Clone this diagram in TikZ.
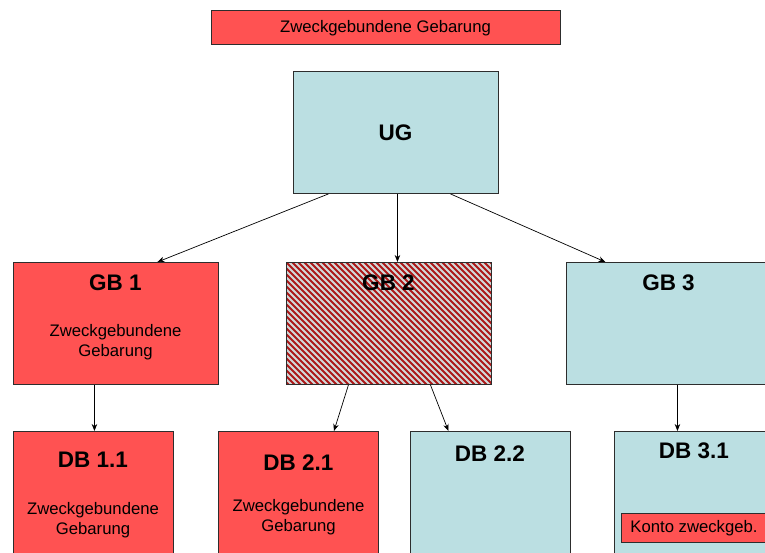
\documentclass[tikz,border=0pt]{standalone}
\usepackage{fontspec}
\setmainfont{Liberation Sans}
\usetikzlibrary{arrows.meta}
\definecolor{zred}{RGB}{255,82,82}
\definecolor{zblue}{RGB}{187,223,226}
\definecolor{zedge}{RGB}{45,45,45}
\definecolor{hatchred}{RGB}{172,24,24}
\definecolor{hatchlight}{RGB}{210,216,216}
\tikzset{
  box/.style={draw=zedge, line width=0.9pt, inner sep=0pt, anchor=north west},
  bigbox/.style={box, minimum width=205pt, minimum height=122pt},
  dbbox/.style={box, minimum width=160pt, minimum height=150pt},
  redbox/.style={fill=zred},
  bluebox/.style={fill=zblue},
  heading/.style={font=\fontsize{22.5}{26}\selectfont\bfseries, inner sep=0pt},
  note/.style={font=\fontsize{16.7}{20}\selectfont, align=center, inner sep=0pt},
  arr/.style={-{Stealth[length=7pt,width=5.5pt]}, line width=0.7pt},
  stripe/.style={hatchred, line width=1.9pt},
}
\begin{document}
\begin{tikzpicture}[x=1pt,y=-1pt]
\useasboundingbox (0,0) rectangle (765,552);
\clip (0,0) rectangle (765,552);

% title bar
\node[box, redbox, minimum width=349pt, minimum height=34pt] (title) at (211,10) {};
\node[note] (titletext) at (385.5,28) {Zweckgebundene Gebarung};

% top level
\node[bigbox, bluebox] (ug) at (293,71) {};
\node[heading] (ugtext) at (395.5,133) {UG};

% second level
\node[bigbox, redbox] (gb1) at (13,262) {};
\node[heading] (gb1text) at (115.5,283) {GB 1};
\node[note] (gb1note) at (115.5,342) {Zweckgebundene\\Gebarung};

% hatched box: light ground with red diagonal stripes
\begin{scope}
  \clip (286,262) rectangle (491,384);
  \fill[hatchlight] (286,262) rectangle (491,384);
  \foreach \i in {-126,-120,...,210}
    \draw[stripe] ({286+\i},262) -- ++(130,130);
\end{scope}
\node[bigbox] (gb2) at (286,262) {};
\node[heading] (gb2text) at (388.5,283) {GB 2};

\node[bigbox, bluebox] (gb3) at (566,262) {};
\node[heading] (gb3text) at (668.5,283) {GB 3};

% third level
\node[dbbox, redbox] (db11) at (13,431) {};
\node[heading] (db11text) at (93,460) {DB 1.1};
\node[note] (db11note) at (93,520) {Zweckgebundene\\Gebarung};

\node[dbbox, redbox] (db21) at (218,431) {};
\node[heading] (db21text) at (298.5,463) {DB 2.1};
\node[note] (db21note) at (298.5,517) {Zweckgebundene\\Gebarung};

\node[dbbox, bluebox] (db22) at (410,431) {};
\node[heading] (db22text) at (490,454) {DB 2.2};

\node[dbbox, bluebox] (db31) at (614,431) {};
\node[heading] (db31text) at (694,451) {DB 3.1};
\node[box, redbox, minimum width=147pt, minimum height=29pt] (konto) at (621,513) {};
\node[note] (kontotext) at (694,528) {Konto zweckgeb.};

% connectors
\draw[arr] ([xshift=-67.5pt]ug.south) -- ([xshift=41.5pt]gb1.north);
\draw[arr] ([xshift=1.5pt]ug.south) -- ([xshift=8.5pt]gb2.north);
\draw[arr] ([xshift=54.5pt]ug.south) -- ([xshift=-63.5pt]gb3.north);
\draw[arr] ([xshift=-21.5pt]gb1.south) -- ([xshift=1pt]db11.north);
\draw[arr] ([xshift=-40.5pt]gb2.south) -- ([xshift=35.5pt]db21.north);
\draw[arr] ([xshift=41.5pt]gb2.south) -- ([xshift=-42pt]db22.north);
\draw[arr] ([xshift=8.5pt]gb3.south) -- ([xshift=-17pt]db31.north);
\end{tikzpicture}
\end{document}
